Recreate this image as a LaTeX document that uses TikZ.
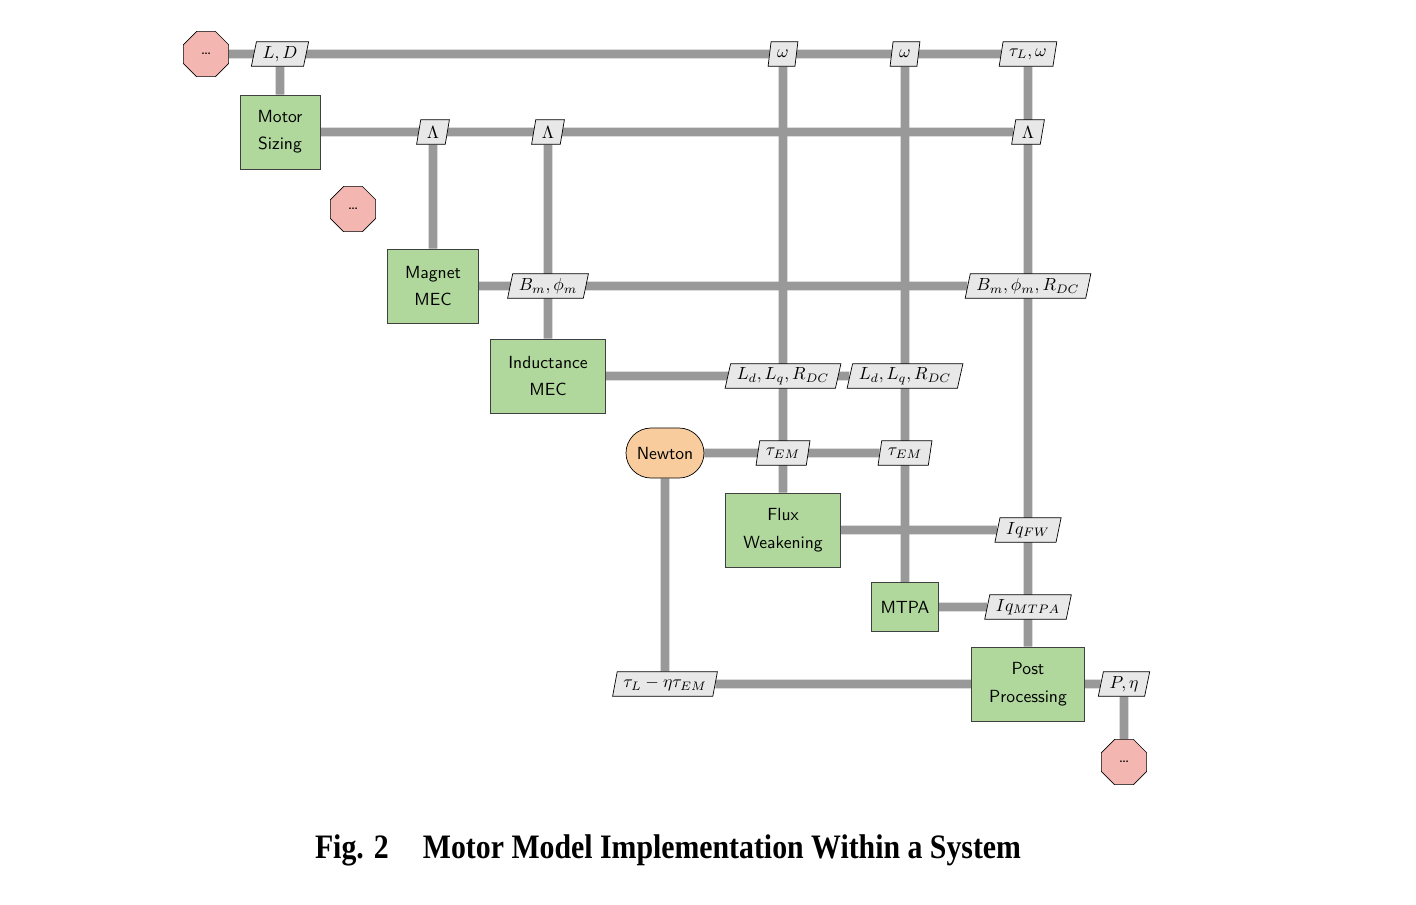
\documentclass[tikz,border=0pt]{standalone}
\usepackage{fontspec}
\usepackage{tikz}
\usepackage{xcolor}
\usetikzlibrary{shapes.geometric,backgrounds}
\newfontfamily\capfont{Liberation Serif}[FakeStretch=0.87]
\definecolor{funcgreen}{RGB}{176,216,156}
\definecolor{endpink}{RGB}{244,182,176}
\definecolor{solverorange}{RGB}{248,204,156}
\definecolor{datagray}{RGB}{232,232,232}
\definecolor{linegray}{RGB}{153,153,153}
\tikzset{
  func/.style={draw=black!75, fill=funcgreen, inner xsep=10pt, inner ysep=4pt, align=center,
    minimum height=1.48cm, font=\sffamily\linespread{1.3}\selectfont},
  endblock/.style={draw, fill=endpink, regular polygon, regular polygon sides=8,
    minimum size=0.98cm, inner sep=0pt, font=\sffamily},
  solver/.style={draw, fill=solverorange, rounded corners=0.5cm,
    minimum width=1.56cm, minimum height=1cm, font=\sffamily},
  dataio/.style={draw, fill=datagray, trapezium, trapezium left angle=75,
    trapezium right angle=105, trapezium stretches body=true, inner xsep=3.5pt, inner ysep=1pt,
    minimum height=0.49cm},
  dataline/.style={draw=linegray, line width=5pt},
}

\begin{document}
\begin{tikzpicture}[x=0.02cm, y=-0.02cm]
	\useasboundingbox (0,0) rectangle (1416,904);
	\node[endblock] (out1) at (206,54) {\ldots};
	\node[func] (sizing) at (280,132) {Motor\\Sizing};
	\node[endblock] (out2) at (353,209) {\ldots};
	\node[func] (magnet) at (433,286) {Magnet\\MEC};
	\node[func] (induct) at (548,376) {Inductance\\MEC};
	\node[solver] (newton) at (665,453) {Newton};
	\node[func] (flux) at (783,530) {Flux\\Weakening};
	\node[func, inner xsep=5pt, minimum height=0.98cm] (mtpa) at (905,607) {MTPA};
	\node[func] (post) at (1028,684) {Post\\Processing};
	\node[endblock] (out3) at (1124,762) {\ldots};

	\node[dataio] (ld) at (280,54) {$L, D$};
	\node[dataio] (w1) at (783,54) {$\omega$};
	\node[dataio] (w2) at (905,54) {$\omega$};
	\node[dataio] (tlw) at (1028,54) {$\tau_L, \omega$};
	\node[dataio] (lam1) at (433,132) {$\Lambda$};
	\node[dataio] (lam2) at (548,132) {$\Lambda$};
	\node[dataio] (lam3) at (1028,132) {$\Lambda$};
	\node[dataio] (bphi) at (548,286) {$B_m, \phi_m$};
	\node[dataio] (bphir) at (1028,286) {$B_m, \phi_m, R_{DC}$};
	\node[dataio] (ldq1) at (783,376) {$L_d, L_q, R_{DC}$};
	\node[dataio] (ldq2) at (905,376) {$L_d, L_q, R_{DC}$};
	\node[dataio] (tem1) at (783,453) {$\tau_{EM}$};
	\node[dataio] (tem2) at (905,453) {$\tau_{EM}$};
	\node[dataio] (iqfw) at (1028,530) {$Iq_{FW}$};
	\node[dataio] (iqmtpa) at (1028,607) {$Iq_{MTPA}$};
	\node[dataio] (resid) at (665,684) {$\tau_L - \eta\tau_{EM}$};
	\node[dataio] (peta) at (1124,684) {$P, \eta$};

	\begin{scope}[on background layer]
		\draw[dataline] (out1) -- (tlw);
		\draw[dataline] (sizing) -- (lam3);
		\draw[dataline] (magnet) -- (bphir);
		\draw[dataline] (induct) -- (ldq2);
		\draw[dataline] (newton) -- (tem2);
		\draw[dataline] (flux) -- (iqfw);
		\draw[dataline] (mtpa) -- (iqmtpa);
		\draw[dataline] (resid) -- (peta);
		\draw[dataline] (ld) -- (sizing);
		\draw[dataline] (lam1) -- (magnet);
		\draw[dataline] (lam2) -- (induct);
		\draw[dataline] (newton) -- (resid);
		\draw[dataline] (w1) -- (flux);
		\draw[dataline] (w2) -- (mtpa);
		\draw[dataline] (tlw) -- (post);
		\draw[dataline] (peta) -- (out3);
	\end{scope}

	\node[anchor=base, font=\capfont\fontsize{19.5}{22}\selectfont\bfseries] (caption) at (668,858)
		{Fig. 2\quad Motor Model Implementation Within a System};
\end{tikzpicture}
\end{document}
